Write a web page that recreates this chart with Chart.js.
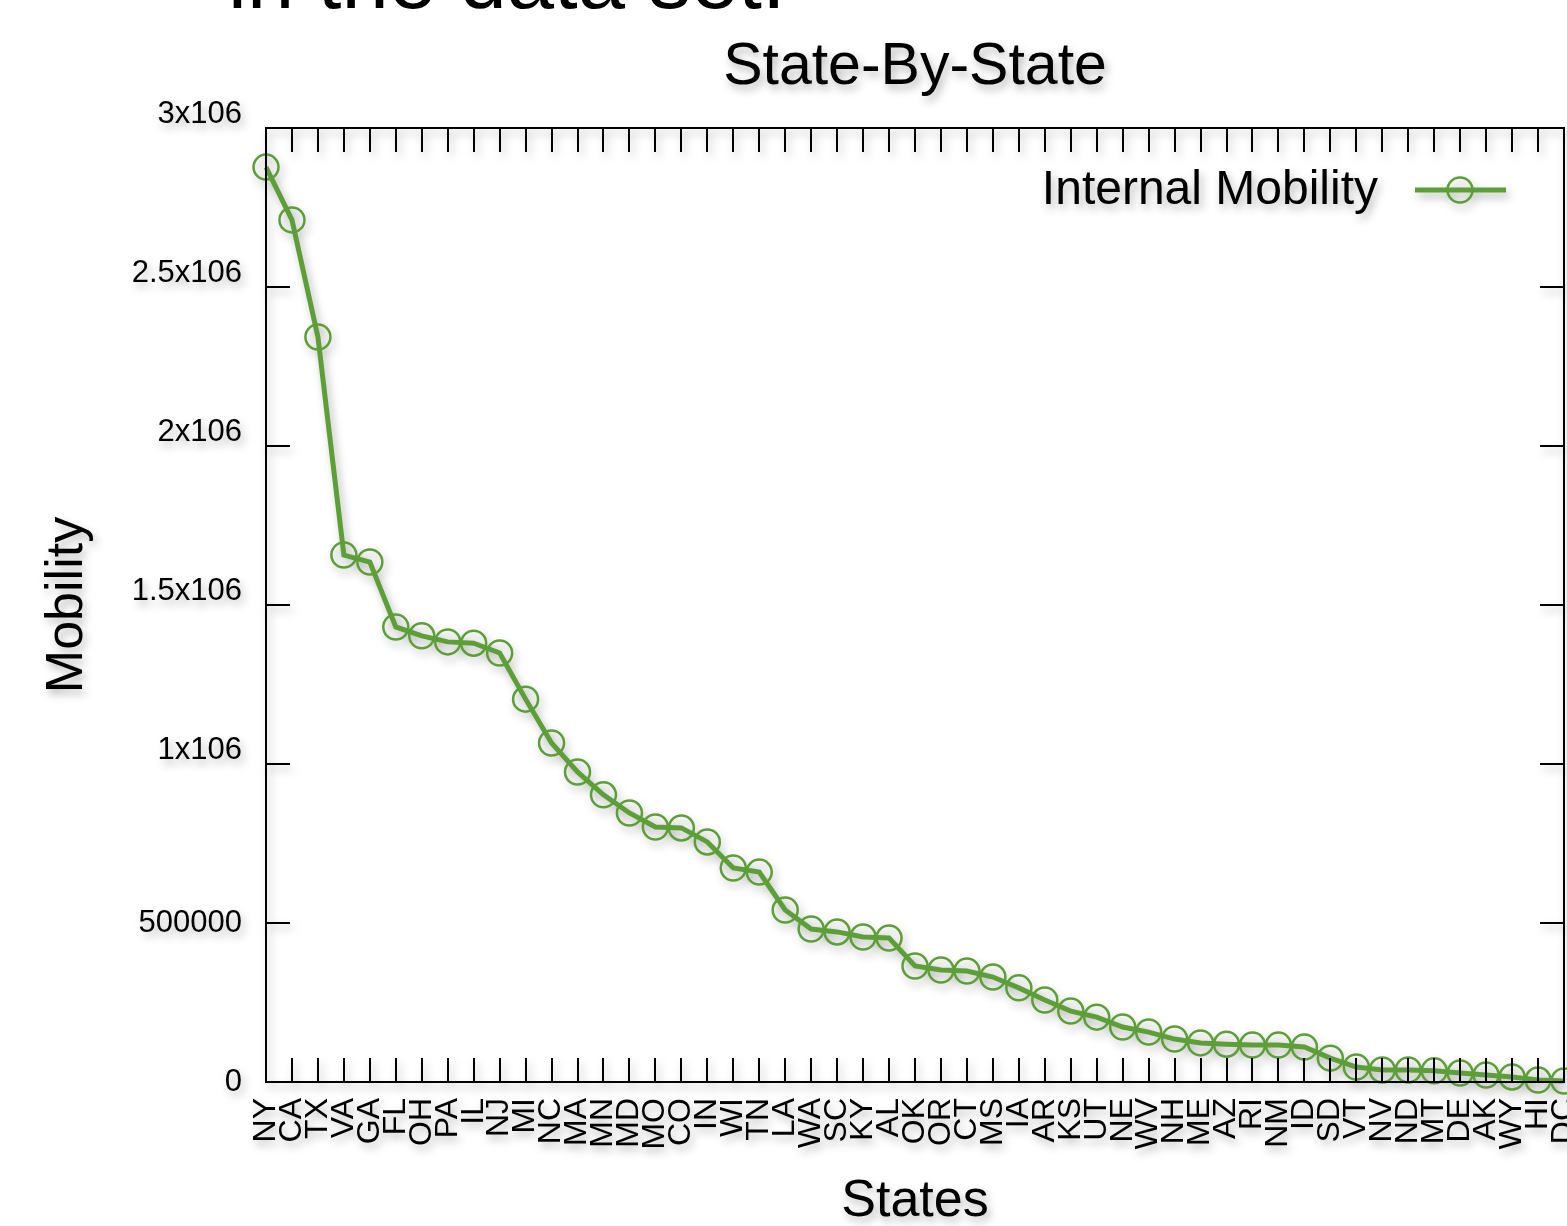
<!DOCTYPE html>
<html>
<head>
<meta charset="utf-8">
<script src="https://cdn.jsdelivr.net/npm/chart.js@4/dist/chart.umd.min.js"></script>
<style>
  html, body { margin: 0; padding: 0; background: #fff; overflow: hidden; width: 1567px; height: 1226px; }
  #wrap { position: absolute; left: 0; top: 0; width: 1600px; height: 1226px; }
  #wrap canvas { filter: drop-shadow(3px 5px 4px rgba(0,0,0,0.28)); }
  #slide { position: absolute; left: 228px; top: -64px; font-family: 'Liberation Sans', Arial, sans-serif; font-size: 85px; line-height: 85px; color: #000; white-space: nowrap; }
</style>
</head>
<body>
<div id="slide">in the data set.</div>
<div id="wrap"><canvas id="c"></canvas></div>
<script>
const chartTitle = 'State-By-State';
const seriesLabel = 'Internal Mobility';
const xAxisTitle = 'States';
const yAxisTitle = 'Mobility';
const states = ['NY','CA','TX','VA','GA','FL','OH','PA','IL','NJ','MI','NC','MA','MN','MD','MO','CO','IN','WI','TN','LA','WA','SC','KY','AL','OK','OR','CT','MS','IA','AR','KS','UT','NE','WV','NH','ME','AZ','RI','NM','ID','SD','VT','NV','ND','MT','DE','AK','WY','HI','DC'];
const mobility = [2877000,2711000,2343000,1657000,1635000,1431000,1403000,1384000,1380000,1349000,1204000,1066000,975000,903000,846000,802000,799000,755000,673000,660000,541000,481000,472000,456000,453000,365000,352000,349000,330000,296000,258000,223000,204000,173000,157000,135000,123000,119000,116000,116000,110000,75000,47000,38000,38000,35000,28000,22000,16000,6000,3000];
const yTickValues = [0,500000,1000000,1500000,2000000,2500000,3000000];
const yTickLabels = ['0','500000','1x106','1.5x106','2x106','2.5x106','3x106'];

const FONT = "'Liberation Sans', Arial, Helvetica, sans-serif";
const GREEN = '#5c9f37';

const frame = {
  id: 'frame',
  afterDatasetsDraw(chart) {
    const {ctx, chartArea: a, scales} = chart;
    ctx.save();
    ctx.strokeStyle = '#000';
    ctx.lineWidth = 2;
    ctx.beginPath();
    const tl = 24;
    scales.y.ticks.forEach((t) => {
      if (t.value === scales.y.min || t.value === scales.y.max) return;
      const y = Math.round(scales.y.getPixelForValue(t.value));
      ctx.moveTo(a.left, y); ctx.lineTo(a.left + tl, y);
      ctx.moveTo(a.right, y); ctx.lineTo(a.right - tl, y);
    });
    scales.x.ticks.forEach((t, i) => {
      const x = Math.round(scales.x.getPixelForTick(i));
      ctx.moveTo(x, a.bottom); ctx.lineTo(x, a.bottom - tl);
      ctx.moveTo(x, a.top); ctx.lineTo(x, a.top + tl);
    });
    ctx.stroke();
    ctx.strokeRect(a.left, a.top, a.right - a.left, a.bottom - a.top);
    ctx.restore();
  }
};

const legendInside = {
  id: 'legendInside',
  afterDatasetsDraw(chart) {
    const {ctx} = chart;
    const ds = chart.data.datasets[0];
    ctx.save();
    ctx.font = '48px ' + FONT;
    ctx.fillStyle = '#000';
    ctx.textAlign = 'right';
    ctx.textBaseline = 'middle';
    ctx.fillText(ds.label, 1378, 191);
    ctx.strokeStyle = ds.borderColor;
    ctx.lineWidth = ds.borderWidth;
    ctx.beginPath(); ctx.moveTo(1415, 190); ctx.lineTo(1506, 190); ctx.stroke();
    ctx.lineWidth = ds.pointBorderWidth;
    ctx.beginPath(); ctx.arc(1460, 190, ds.pointRadius, 0, Math.PI * 2); ctx.stroke();
    ctx.restore();
  }
};

new Chart(document.getElementById('c'), {
  type: 'line',
  data: {
    labels: states,
    datasets: [{
      label: seriesLabel,
      data: mobility,
      borderColor: GREEN,
      borderWidth: 5,
      pointRadius: 12.5,
      pointBorderWidth: 2.5,
      pointBorderColor: GREEN,
      pointBackgroundColor: 'rgba(0,0,0,0)',
      tension: 0,
      clip: false
    }]
  },
  options: {
    responsive: true,
    maintainAspectRatio: false,
    animation: false,
    layout: { padding: { top: 0, right: 36, bottom: 0, left: 0 } },
    plugins: {
      legend: { display: false },
      tooltip: { enabled: false },
      title: {
        display: true,
        text: chartTitle,
        fullSize: false,
        color: '#000',
        font: { family: FONT, size: 59, weight: 'normal', lineHeight: 1.2 },
        padding: { top: 32, bottom: 25.2 }
      }
    },
    scales: {
      x: {
        type: 'category',
        offset: false,
        grid: { display: false, drawTicks: false },
        border: { display: false },
        ticks: {
          autoSkip: false, maxRotation: 90, minRotation: 90, padding: 16,
          color: '#000', font: { family: FONT, size: 32 }
        },
        title: { display: true, text: xAxisTitle, color: '#000', font: { family: FONT, size: 52, lineHeight: 1 }, padding: { top: 0, bottom: -2 } },
        afterFit(s) { s.height = 144; s.paddingLeft = 0; s.paddingRight = 0; }
      },
      y: {
        min: 0, max: 3000000,
        grid: { display: false, drawTicks: false },
        border: { display: false },
        afterBuildTicks(s) { s.ticks = yTickValues.map(v => ({ value: v })); },
        ticks: {
          padding: 24, color: '#000',
          font: { family: FONT, size: 31, lineHeight: 0.9 },
          callback(v) {
            const i = yTickValues.indexOf(v);
            if (i < 0) return '';
            const s = yTickLabels[i];
            return s.indexOf('x') >= 0 ? [s, ''] : s;
          }
        },
        title: { display: true, text: yAxisTitle, color: '#000', font: { family: FONT, size: 52, lineHeight: 1 }, padding: { top: 42, bottom: 0 } },
        afterFit(s) { s.width = 266; }
      }
    }
  },
  plugins: [frame, legendInside]
});
</script>
</body>
</html>
